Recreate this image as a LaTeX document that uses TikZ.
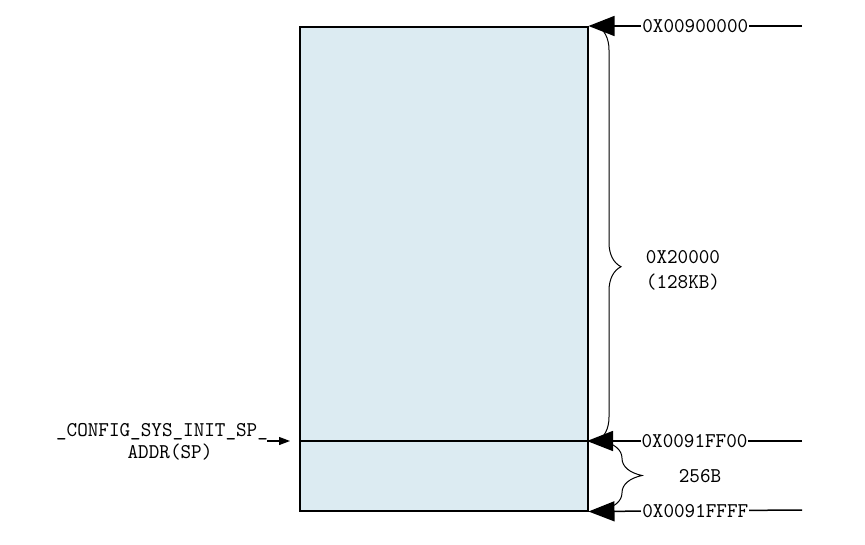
\documentclass[tikz,border=0pt]{standalone}
\usepackage{fontspec}
\newfontfamily\memfont{lmmono10-regular.otf}[FakeStretch=0.96]
\usetikzlibrary{arrows.meta,decorations.pathreplacing}
\definecolor{memblue}{RGB}{220,235,242}

\begin{document}
\begin{tikzpicture}[x=1pt,y=-1pt,
  font=\memfont\fontsize{21}{22}\selectfont,
  addr/.style={line width=1.5pt,-{Triangle[length=26pt,width=20pt]}},
  addrlabel/.style={fill=white,inner xsep=1pt,inner ysep=2pt},
  memcurly/.style={line width=1pt,decorate,decoration={brace,#1}}]
\useasboundingbox (0,0) rectangle (865,544);
\node[draw,line width=1.5pt,fill=memblue,minimum width=288pt,minimum height=484pt,anchor=north west,inner sep=0pt] (mem) at (299,26) {};
\coordinate (dl) at (299,441);
\coordinate (dr) at (587,441);
\draw[line width=1.5pt] (dl) -- (dr);
% address lines on the right
\coordinate (a) at (802,26);
\coordinate (b) at (802,441);
\coordinate (c) at (802,510);
\draw[addr] (a) -- node[addrlabel] {0X00900000} (mem.north east);
\draw[addr] (b) -- node[addrlabel] {0X0091FF00} (dr);
\draw[addr] (c) -- node[addrlabel] {0X0091FFFF} (mem.south east);
% sizes
\draw[memcurly={amplitude=24pt,aspect=0.58}] (597,26) -- (597,441);
\draw[memcurly={amplitude=40pt}] (602,441) -- (602,510);
\node[align=center,inner sep=0pt] (big) at (683,270) {0X20000\\[3pt](128KB)};
\node[inner sep=0pt] (small) at (700,476) {256B};
% stack pointer
\node[align=center,inner sep=0pt] (sp) at (162,442) {\_CONFIG\_SYS\_INIT\_SP\_\\[0pt]\hspace*{16pt}ADDR(SP)};
\coordinate (spfrom) at (267,441);
\coordinate (spto) at (290,441);
\draw[line width=1.2pt,-{Triangle[length=11pt,width=8pt]}] (spfrom) -- (spto);
\end{tikzpicture}
\end{document}
